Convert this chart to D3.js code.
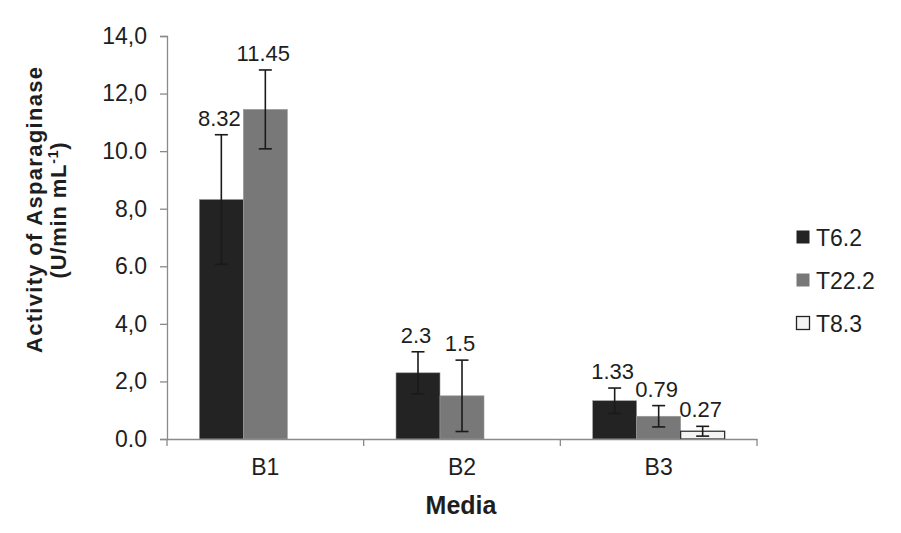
<!DOCTYPE html>
<html><head><meta charset="utf-8">
<script src="https://cdn.jsdelivr.net/npm/d3@7"></script>
<style>
html,body{margin:0;padding:0;background:#fff;}
text{font-family:"Liberation Sans",Arial,sans-serif;fill:#1e1e1e;}
</style></head>
<body><svg id="c" width="901" height="533"></svg>
<script>
const categories = ["B1","B2","B3"];
const series = ["T6.2","T22.2","T8.3"];
const t62 = [8.32, 2.3, 1.33];
const t222 = [11.45, 1.5, 0.79];
const t83 = [null, null, 0.27];
const t62Err = [2.25, 0.73, 0.44];
const t222Err = [1.37, 1.24, 0.37];
const t83Err = [null, null, 0.17];
const yTicks = [0,2,4,6,8,10,12,14];
const yTickLabels = ["0.0","2,0","4,0","6.0","8,0","10.0","12,0","14,0"];
const colors = ["#232323","#787878","#f3f3f3"];

(function(){
const values = [t62, t222, t83];
const errs = [t62Err, t222Err, t83Err];

const svg = d3.select("#c");
const pL = 167, pR = 757, pT = 36, pB = 439;
const x0 = d3.scaleBand().domain(categories).range([pL, pR]).padding(0);
const x1 = d3.scaleBand().domain(series).range([0, x0.bandwidth()]).paddingInner(0).paddingOuter(0.735);
const y = d3.scaleLinear().domain([0,14]).range([pB, pT]);

const data = [];
categories.forEach((c,i)=>series.forEach((s,j)=>{
  if (values[j][i] != null) data.push({c, s, j, v: values[j][i], e: errs[j][i]});
}));

svg.append("g").selectAll("rect").data(data).join("rect")
  .attr("x", d=>x0(d.c)+x1(d.s))
  .attr("y", d=>y(d.v))
  .attr("width", x1.bandwidth())
  .attr("height", d=>y(0)-y(d.v))
  .attr("fill", d=>colors[d.j])
  .attr("stroke", d=>d.j===2 ? "#222" : "#999")
  .attr("stroke-width", d=>d.j===2 ? 1.2 : 0.6);

const yAxis = d3.axisLeft(y).tickValues(yTicks).tickFormat((d,i)=>yTickLabels[i]).tickSize(7).tickPadding(13);
const gy = svg.append("g").attr("transform", `translate(${pL},0)`).call(yAxis);
gy.selectAll("path,line").attr("stroke","#8a8a8a").attr("stroke-width",1.3);
gy.selectAll("text").style("font-size","23px").attr("fill","#1e1e1e");

const xAxis = d3.axisBottom(x0).tickSize(0).tickPadding(20);
const gx = svg.append("g").attr("transform", `translate(0,${pB})`).call(xAxis);
gx.select(".domain").attr("stroke","#8a8a8a").attr("stroke-width",1.3);
gx.selectAll("text").style("font-size","23px").attr("fill","#1e1e1e");
const bounds = categories.map(c=>x0(c)).concat([x0(categories[categories.length-1])+x0.bandwidth()]);
gx.selectAll("line.b").data(bounds).join("line").attr("class","b")
  .attr("x1",d=>d).attr("x2",d=>d).attr("y1",0).attr("y2",7)
  .attr("stroke","#8a8a8a").attr("stroke-width",1.3);

const eg = svg.append("g").attr("stroke","#1a1a1a").attr("stroke-width",1.6);
data.forEach(d=>{
  const cx = x0(d.c)+x1(d.s)+x1.bandwidth()/2;
  const y1 = y(d.v+d.e), y2 = y(d.v-d.e);
  eg.append("line").attr("x1",cx).attr("x2",cx).attr("y1",y1).attr("y2",y2);
  eg.append("line").attr("x1",cx-6.5).attr("x2",cx+6.5).attr("y1",y1).attr("y2",y1);
  eg.append("line").attr("x1",cx-6.5).attr("x2",cx+6.5).attr("y1",y2).attr("y2",y2);
});

svg.append("g").selectAll("text").data(data).join("text")
  .attr("x", d=>x0(d.c)+x1(d.s)+x1.bandwidth()/2 - 2)
  .attr("y", d=>y(d.v+d.e)-9)
  .attr("text-anchor","middle")
  .style("font-size","22px")
  .text(d=>String(d.v));

const yt = svg.append("text").attr("transform","translate(42,210) rotate(-90)")
  .attr("text-anchor","middle").style("font-size","22px").style("font-weight","bold");
yt.append("tspan").attr("x",0).attr("dy",0).attr("textLength",286).attr("lengthAdjust","spacing").text("Activity of Asparaginase");
const t2 = yt.append("tspan").attr("x",0).attr("dy",24).style("letter-spacing","0.8px");
t2.append("tspan").text("(U/min mL");
t2.append("tspan").attr("dy",-8).style("font-size","14px").text("-1");
t2.append("tspan").attr("dy",8).text(")");

svg.append("text").attr("x",461).attr("y",514).attr("text-anchor","middle")
  .style("font-size","25px").style("font-weight","bold").text("Media");

const lg = svg.append("g").attr("transform","translate(796,0)");
const ly = d3.scalePoint().domain(series).range([237,323]);
series.forEach((s,j)=>{
  lg.append("rect").attr("x",0.5).attr("y",ly(s)-6.5).attr("width",13).attr("height",13)
    .attr("fill",colors[j]).attr("stroke", j===2?"#222":"none").attr("stroke-width",1.3);
  lg.append("text").attr("x",20).attr("y",ly(s)+8.5).style("font-size","23px").text(s);
});
})();
</script></body></html>
